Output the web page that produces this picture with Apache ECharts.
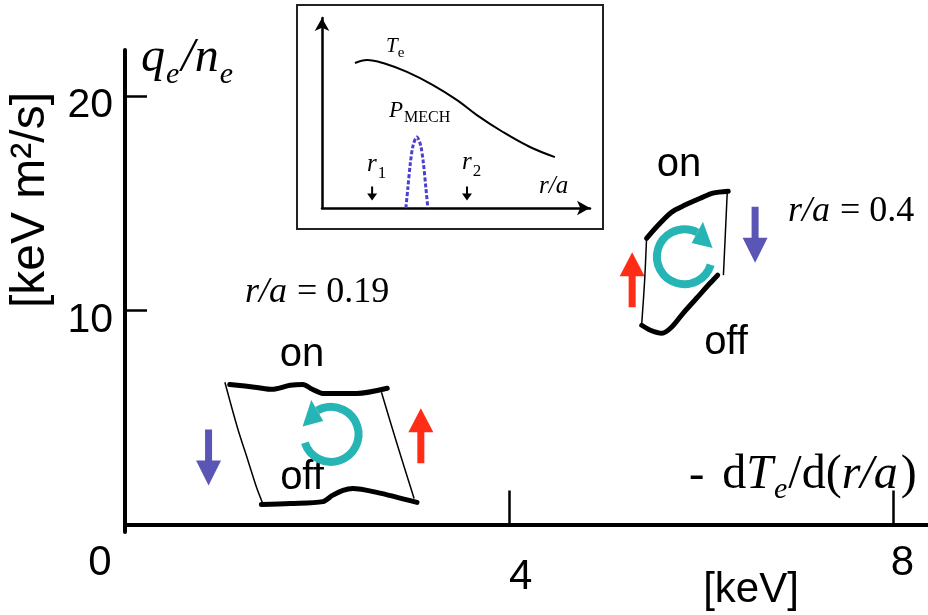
<!DOCTYPE html>
<html>
<head>
<meta charset="utf-8">
<script src="https://cdn.jsdelivr.net/npm/echarts@6/dist/echarts.min.js"></script>
<style>
  html, body { margin: 0; padding: 0; background: #fff; }
  #main { width: 928px; height: 615px; }
</style>
</head>
<body>
<div id="main"></div>
<script>
var myChart = echarts.init(document.getElementById('main'));

// main axes: -dTe/d(r/a) [keV] vs qe/ne [keV m2/s]
var xTickValues = [4, 8];
var xLabelValues = [0, 4, 8];
var yTickValues = [10, 20];

// r/a = 0.19 loop
var loop1On = [[1.09, 6.54], [1.37, 6.40], [1.53, 6.31], [1.72, 6.50], [1.85, 6.54], [1.95, 6.31], [2.06, 6.12], [2.41, 6.12], [2.73, 6.36]];
var loop1Off = [[1.42, 0.93], [1.72, 0.98], [2.06, 1.07], [2.16, 1.36], [2.27, 1.59], [2.37, 1.68], [2.62, 1.50], [3.04, 1.03]];
var loop1Left = [[1.04, 6.64], [1.17, 4.53], [1.28, 2.99], [1.37, 1.73], [1.43, 1.03]];
var loop1Right = [[2.67, 6.17], [2.83, 3.79], [3.01, 1.21]];

// r/a = 0.4 loop
var loop2On = [[5.43, 13.36], [5.55, 13.97], [5.69, 14.58], [5.83, 14.91], [5.99, 15.23], [6.12, 15.47], [6.28, 15.56]];
var loop2Off = [[6.17, 11.64], [6.09, 11.26], [5.95, 10.56], [5.81, 9.86], [5.69, 9.21], [5.59, 8.93], [5.47, 9.07], [5.38, 9.30]];
var loop2Left = [[5.43, 13.36], [5.41, 11.40], [5.38, 9.39]];
var loop2Right = [[6.27, 15.51], [6.25, 13.55], [6.23, 11.64]];

// big arrows (ECH on / off)
var upArrows = [[3.08, 4.14], [5.28, 11.43]];
var downArrows = [[0.87, 3.13], [6.56, 13.53]];
// circulation direction: x, y, arc start deg, arrow deg, clockwise(1)/anticlockwise(0)
var cycles = [[2.145, 4.21, 162, 240, 0], [5.824, 12.50, 17, 298, 1]];

// inset: Te and P_MECH profiles vs r/a
var teProfile = [[0.123, 0.763], [0.168, 0.779], [0.228, 0.763], [0.317, 0.716], [0.414, 0.647], [0.504, 0.568], [0.578, 0.489], [0.675, 0.400], [0.776, 0.321], [0.869, 0.268]];
var pMech = [[0.313, 0], [0.320, 0.10], [0.330, 0.24], [0.340, 0.33], [0.354, 0.374], [0.368, 0.33], [0.378, 0.24], [0.388, 0.10], [0.395, 0]];
var rMarks = [[0.187, 0.076], [0.541, 0.076]];

var teal = '#27b4b4';
var red = '#ff2d16';
var blue = '#5b55b6';
var sans = 'Liberation Sans';
var serif = 'Liberation Serif';

var upPath = 'path://M12.5,0 L25,24 L16,24 L16,55 L9,55 L9,24 L0,24 Z';
var downPath = 'path://M9,0 L16,0 L16,31 L25,31 L12.5,56 L0,31 L9,31 Z';
var smallDown = 'path://M4,0 L6,0 L6,7 L10,7 L5,14 L0,7 L4,7 Z';

function thick(data) {
    return {
        type: 'line', xAxisIndex: 0, yAxisIndex: 0, data: data, smooth: 0.3,
        showSymbol: false, silent: true,
        lineStyle: { color: '#000', width: 5, cap: 'round' }
    };
}
function thin(data) {
    return {
        type: 'line', xAxisIndex: 0, yAxisIndex: 0, data: data, smooth: 0.3,
        showSymbol: false, silent: true,
        lineStyle: { color: '#000', width: 1.5 }
    };
}

// math-like label: pieces are [text, italic, size, baseline shift, extra gap]
var measureCtx = document.createElement('canvas').getContext('2d');
function mathText(x0, baseline, pieces) {
    var x = x0;
    var children = [];
    pieces.forEach(function (p) {
        var font = (p[1] ? 'italic ' : '') + p[2] + 'px "Liberation Serif"';
        measureCtx.font = font;
        children.push({
            type: 'text', x: x, y: baseline + (p[3] || 0) - 0.3 * p[2],
            style: { text: p[0], font: font, fill: '#000', align: 'left', verticalAlign: 'middle' }
        });
        x += measureCtx.measureText(p[0]).width + (p[4] || 0);
    });
    return { type: 'group', children: children };
}

option = {
    backgroundColor: '#fff',
    animation: false,
    grid: [{
        left: 125, right: 0, top: 50, bottom: 83
    }, {
        left: 322, top: 18, width: 268, height: 190
    }],
    xAxis: [{
        type: 'value', min: 0, max: 8.36,
        axisLine: { lineStyle: { color: '#000', width: 4 } },
        axisTick: { inside: true, length: 34, customValues: xTickValues, lineStyle: { color: '#000', width: 2.5 } },
        axisLabel: {
            customValues: xLabelValues, margin: 10, color: '#000',
            fontFamily: sans, fontSize: 42,
            formatter: function (v) {
                if (v === 0) return '{a|0}';
                if (v === 4) return '{b|4}';
                return '{c|' + v + '}';
            },
            rich: {
                a: { fontFamily: sans, fontSize: 42, padding: [0, 50, 0, 0] },
                b: { fontFamily: sans, fontSize: 42, padding: [14, 0, 0, 23] },
                c: { fontFamily: sans, fontSize: 42, padding: [0, 0, 0, 18] }
            }
        },
        splitLine: { show: false }
    }, {
        type: 'value', gridIndex: 1, min: 0, max: 1,
        axisLine: { symbol: ['none', 'arrow'], symbolSize: [11, 13], lineStyle: { color: '#000', width: 2.5 } },
        axisTick: { show: false }, axisLabel: { show: false }, splitLine: { show: false }
    }],
    yAxis: [{
        type: 'value', min: -0.35, max: 22.15,
        axisLine: { onZero: false, lineStyle: { color: '#000', width: 4 } },
        axisTick: { inside: true, length: 22, customValues: yTickValues, lineStyle: { color: '#000', width: 2.5 } },
        axisLabel: {
            customValues: yTickValues, margin: 12, color: '#000',
            formatter: '{a|{value}}',
            rich: { a: { fontFamily: sans, fontSize: 41, padding: [20, 0, 0, 0] } }
        },
        splitLine: { show: false }
    }, {
        type: 'value', gridIndex: 1, min: 0, max: 1,
        axisLine: { symbol: ['none', 'arrow'], symbolSize: [11, 13], lineStyle: { color: '#000', width: 2.5 } },
        axisTick: { show: false }, axisLabel: { show: false }, splitLine: { show: false }
    }],
    series: [
        thin(loop1Left), thin(loop1Right), thick(loop1On), thick(loop1Off),
        thin(loop2Left), thin(loop2Right), thick(loop2On), thick(loop2Off),
        {
            type: 'scatter', data: upArrows, symbol: upPath, symbolSize: [25, 55],
            itemStyle: { color: red, opacity: 1 }, silent: true
        },
        {
            type: 'scatter', data: downArrows, symbol: downPath, symbolSize: [25, 56],
            itemStyle: { color: blue, opacity: 1 }, silent: true
        },
        {
            type: 'custom', data: cycles, silent: true,
            renderItem: function (params, api) {
                var c = api.coord([api.value(0), api.value(1)]);
                var r = 27.5;
                var a0 = api.value(2) * Math.PI / 180;
                var a1 = api.value(3) * Math.PI / 180;
                var cw = api.value(4) > 0;
                var tip = a1 + (cw ? 1 : -1) * 0.78;
                var pts = [
                    [c[0] + (r - 12) * Math.cos(a1), c[1] + (r - 12) * Math.sin(a1)],
                    [c[0] + (r + 12) * Math.cos(a1), c[1] + (r + 12) * Math.sin(a1)],
                    [c[0] + (r + 2) * Math.cos(tip), c[1] + (r + 2) * Math.sin(tip)]
                ];
                return {
                    type: 'group',
                    children: [{
                        type: 'arc',
                        shape: { cx: c[0], cy: c[1], r: r, startAngle: a0, endAngle: a1, clockwise: cw },
                        style: { stroke: teal, lineWidth: 8, fill: null }
                    }, {
                        type: 'polygon',
                        shape: { points: pts },
                        style: { fill: teal }
                    }]
                };
            }
        },
        // inset
        {
            type: 'line', xAxisIndex: 1, yAxisIndex: 1, data: teProfile, smooth: 0.4,
            showSymbol: false, silent: true, lineStyle: { color: '#000', width: 2 }
        },
        {
            type: 'line', xAxisIndex: 1, yAxisIndex: 1, data: pMech, smooth: 0.3,
            showSymbol: false, silent: true, lineStyle: { color: '#4b3fd0', width: 3, type: [4, 2] }
        },
        {
            type: 'scatter', xAxisIndex: 1, yAxisIndex: 1, data: rMarks, symbol: smallDown, symbolSize: [10, 14],
            itemStyle: { color: '#000', opacity: 1 }, silent: true
        }
    ],
    graphic: [
        { type: 'rect', shape: { x: 297, y: 5, width: 306, height: 224 }, style: { fill: 'none', stroke: '#222', lineWidth: 2 } },
        { type: 'text', x: 31, y: 200, rotation: Math.PI / 2, style: { text: '[keV m²/s]', font: '48px "Liberation Sans"', fill: '#000', align: 'center', verticalAlign: 'middle' } },
        mathText(141, 73, [['q', 1, 48, 0, 1], ['e', 1, 30, 11, 2], ['/', 1, 48], ['n', 1, 48, 0, 1], ['e', 1, 30, 11]]),
        mathText(689, 490, [['-', 0, 46, 0, 18], ['d', 0, 48], ['T', 1, 48, 0, 1], ['e', 1, 30, 9, 1], ['/d(', 0, 48], ['r/a', 1, 48, 0, 3], [')', 0, 48]]),
        { type: 'text', x: 751, y: 590, style: { text: '[keV]', font: '42px "Liberation Sans"', fill: '#000', align: 'center', verticalAlign: 'middle' } },
        mathText(245, 303, [['r/a', 1, 36, 0, 10], ['= 0.19', 0, 36]]),
        mathText(788, 222, [['r/a', 1, 36, 0, 10], ['= 0.4', 0, 36]]),
        { type: 'text', x: 302, y: 355, style: { text: 'on', font: '40px "Liberation Sans"', fill: '#000', align: 'center', verticalAlign: 'middle' } },
        { type: 'text', x: 302, y: 478, style: { text: 'off', font: '40px "Liberation Sans"', fill: '#000', align: 'center', verticalAlign: 'middle' } },
        { type: 'text', x: 679, y: 165, style: { text: 'on', font: '40px "Liberation Sans"', fill: '#000', align: 'center', verticalAlign: 'middle' } },
        { type: 'text', x: 726, y: 343, style: { text: 'off', font: '40px "Liberation Sans"', fill: '#000', align: 'center', verticalAlign: 'middle' } },
        // inset labels
        mathText(386, 53, [['T', 1, 21], ['e', 0, 15, 5]]),
        mathText(389, 118, [['P', 1, 23, 0, 1], ['MECH', 0, 16, 5]]),
        mathText(367, 172, [['r', 1, 25, 0, 1], ['1', 0, 17, 7]]),
        mathText(462, 170, [['r', 1, 25, 0, 1], ['2', 0, 17, 7]]),
        mathText(539, 194, [['r/a', 1, 25]])
    ]
};
myChart.setOption(option);
</script>
</body>
</html>
